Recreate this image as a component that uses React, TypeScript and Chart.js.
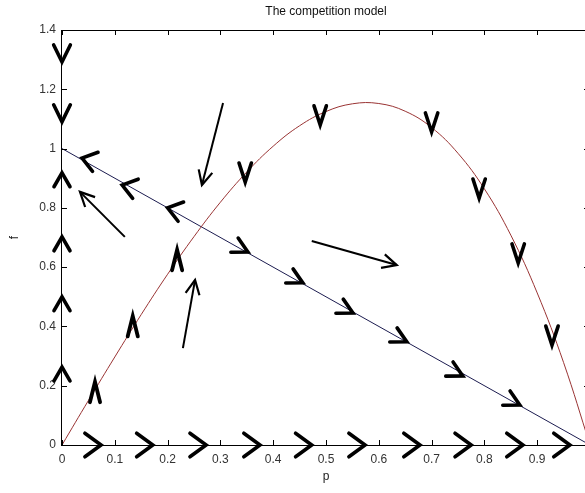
import { useEffect, useRef } from 'react';
import { Chart, registerables } from 'chart.js';

Chart.register(...registerables);

// p-nullcline (red curve), sampled along p
const curveP = [0, 0.05, 0.1, 0.15, 0.2, 0.25, 0.3, 0.35, 0.4, 0.45, 0.5, 0.55, 0.6, 0.65, 0.7, 0.75, 0.8, 0.85, 0.9, 0.95, 1];
const curveF = [0, 0.15, 0.297, 0.44, 0.576, 0.703, 0.819, 0.921, 1.008, 1.077, 1.125, 1.151, 1.152, 1.126, 1.071, 0.984, 0.864, 0.708, 0.513, 0.278, 0];

// f-nullcline (straight line)
const lineP = [0, 1];
const lineF = [1, 0];

const xTickValues = [0, 0.1, 0.2, 0.3, 0.4, 0.5, 0.6, 0.7, 0.8, 0.9];
const yTickValues = [0, 0.2, 0.4, 0.6, 0.8, 1, 1.2, 1.4];

// flow direction markers: tip positions (p, f)
const pAxisRight = [0.074, 0.172, 0.273, 0.375, 0.473, 0.574, 0.678, 0.775, 0.873, 0.962];
const fAxisDown = [1.292, 1.09];
const fAxisUp = [0.918, 0.702, 0.5, 0.263];
const lineLeft = [[0.038, 0.968], [0.114, 0.877], [0.2, 0.8]];
const lineRight = [[0.352, 0.651], [0.456, 0.547], [0.551, 0.445], [0.653, 0.348], [0.759, 0.233], [0.867, 0.135]];
const curveUp = [[0.0625, 0.213], [0.134, 0.435], [0.218, 0.658]];
const curveDown = [[0.347, 0.887], [0.489, 1.08], [0.7, 1.056], [0.79, 0.833], [0.864, 0.614], [0.928, 0.337]];
// field arrows: from (p0, f0) to (p1, f1)
const fieldArrows = [
  [0.119, 0.702, 0.034, 0.854],
  [0.305, 1.154, 0.265, 0.877],
  [0.229, 0.327, 0.252, 0.557],
  [0.473, 0.688, 0.634, 0.607],
];

const FONT = "'Liberation Sans', Arial, sans-serif";

function chevron(ctx: CanvasRenderingContext2D, tx: number, ty: number, angDeg: number, arm: number, halfDeg: number, lw: number) {
  const a = (angDeg * Math.PI) / 180;
  const back = a + Math.PI;
  const h = (halfDeg * Math.PI) / 180;
  ctx.lineWidth = lw;
  ctx.beginPath();
  ctx.moveTo(tx + arm * Math.cos(back - h), ty + arm * Math.sin(back - h));
  ctx.lineTo(tx, ty);
  ctx.lineTo(tx + arm * Math.cos(back + h), ty + arm * Math.sin(back + h));
  ctx.stroke();
}

const phasePlot = {
  id: 'phasePlot',
  afterDatasetsDraw(chart: any) {
    const { ctx, chartArea: a, scales } = chart;
    const x = scales.x;
    const y = scales.y;
    const px = (v: number) => x.getPixelForValue(v);
    const py = (v: number) => y.getPixelForValue(v);
    ctx.save();

    // axes box with inward ticks
    ctx.strokeStyle = '#000';
    ctx.lineWidth = 1;
    ctx.strokeRect(Math.round(a.left) - 0.5, Math.round(a.top) + 0.5, a.right - a.left, a.bottom - a.top);
    ctx.beginPath();
    for (const v of xTickValues) {
      const xx = Math.round(px(v)) + 0.5;
      ctx.moveTo(xx, a.bottom); ctx.lineTo(xx, a.bottom - 5);
      ctx.moveTo(xx, a.top); ctx.lineTo(xx, a.top + 5);
    }
    for (const v of yTickValues) {
      const yy = Math.round(py(v)) + 0.5;
      ctx.moveTo(a.left, yy); ctx.lineTo(a.left + 5, yy);
      ctx.moveTo(a.right, yy); ctx.lineTo(a.right - 6, yy);
    }
    ctx.stroke();

    // direction chevrons
    ctx.strokeStyle = '#000';
    ctx.lineCap = 'round';
    ctx.lineJoin = 'miter';
    for (const p of pAxisRight) chevron(ctx, px(p), py(0), 0, 20, 36, 3.6);
    for (const f of fAxisDown) chevron(ctx, px(0), py(f), 90, 19, 26, 3.6);
    for (const f of fAxisUp) chevron(ctx, px(0), py(f), -90, 16, 30, 3.6);
    for (const [p, f] of lineLeft) chevron(ctx, px(p), py(f), 196, 17, 36, 3.6);
    const lineAng = (Math.atan2(py(lineF[1]) - py(lineF[0]), px(lineP[1]) - px(lineP[0])) * 180) / Math.PI - 2;
    for (const [p, f] of lineRight) chevron(ctx, px(p), py(f), lineAng, 17, 28, 3.6);
    for (const [p, f] of curveUp) chevron(ctx, px(p), py(f), -90, 21, 14, 3.8);
    for (const [p, f] of curveDown) chevron(ctx, px(p), py(f), 90, 20, 18, 3.6);

    // field arrows
    ctx.lineCap = 'butt';
    for (const [p0, f0, p1, f1] of fieldArrows) {
      const x0 = px(p0), y0 = py(f0), x1 = px(p1), y1 = py(f1);
      ctx.lineWidth = 2;
      ctx.beginPath();
      ctx.moveTo(x0, y0);
      ctx.lineTo(x1, y1);
      ctx.stroke();
      const ang = (Math.atan2(y1 - y0, x1 - x0) * 180) / Math.PI;
      chevron(ctx, x1, y1, ang, 16, 26, 2.2);
    }

    // axis titles
    ctx.fillStyle = '#222';
    ctx.font = `12px ${FONT}`;
    ctx.textAlign = 'center';
    ctx.textBaseline = 'middle';
    ctx.fillText('p', (a.left + a.right) / 2, 477);
    ctx.save();
    ctx.translate(15, (a.top + a.bottom) / 2);
    ctx.rotate(-Math.PI / 2);
    ctx.fillText('f', 0, 0);
    ctx.restore();

    ctx.restore();
  },
};

const whiteBg = {
  id: 'whiteBg',
  beforeDraw(chart: any) {
    const { ctx, width, height } = chart;
    ctx.save();
    ctx.fillStyle = '#fff';
    ctx.fillRect(0, 0, width, height);
    ctx.restore();
  },
};

export default function App() {
  const ref = useRef<HTMLCanvasElement | null>(null);

  useEffect(() => {
    if (!ref.current) return;
    const tickFont = { family: FONT, size: 12 };
    const chart = new Chart(ref.current, {
      type: 'scatter',
      data: {
        datasets: [
          {
            data: curveP.map((p, i) => ({ x: p, y: curveF[i] })),
            showLine: true,
            borderColor: '#9a3434',
            borderWidth: 1,
            pointRadius: 0,
            tension: 0.4,
          },
          {
            data: lineP.map((p, i) => ({ x: p, y: lineF[i] })),
            showLine: true,
            borderColor: '#1c1c50',
            borderWidth: 1,
            pointRadius: 0,
          },
        ],
      },
      options: {
        responsive: false,
        animation: false,
        events: [],
        layout: { padding: { left: 0, right: 2, top: 0, bottom: 0 } },
        plugins: {
          legend: { display: false },
          tooltip: { enabled: false },
          title: {
            display: true,
            text: 'The competition model',
            fullSize: false,
            color: '#111',
            font: { family: FONT, size: 12, weight: 'normal' },
            padding: { top: 4, bottom: 11.6 },
          },
        },
        scales: {
          x: {
            type: 'linear',
            min: 0,
            max: 1,
            grid: { display: false, drawTicks: false },
            border: { display: false },
            afterBuildTicks: (s: any) => { s.ticks = xTickValues.map((v) => ({ value: v })); },
            afterFit: (s: any) => { s.height = 48; },
            ticks: {
              autoSkip: false,
              maxRotation: 0,
              padding: 7,
              color: '#333',
              font: tickFont,
              callback: (v: any) => String(v),
            },
          },
          y: {
            type: 'linear',
            min: 0,
            max: 1.4,
            grid: { display: false, drawTicks: false },
            border: { display: false },
            afterBuildTicks: (s: any) => { s.ticks = yTickValues.map((v) => ({ value: v })); },
            afterFit: (s: any) => { s.width = 62; },
            ticks: {
              autoSkip: false,
              padding: 6,
              color: '#333',
              font: tickFont,
              callback: (v: any) => String(v),
            },
          },
        },
      },
      plugins: [whiteBg, phasePlot],
    });
    return () => chart.destroy();
  }, []);

  return (
    <div style={{ position: 'fixed', left: 0, top: 0 }}>
      <canvas ref={ref} width={592} height={493} style={{ display: 'block' }} />
    </div>
  );
}
